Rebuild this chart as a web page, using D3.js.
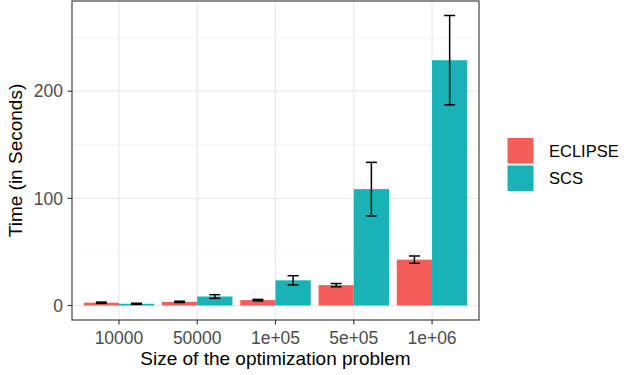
<!DOCTYPE html>
<html><head><meta charset="utf-8">
<script src="https://cdn.jsdelivr.net/npm/d3@7"></script>
<style>body{margin:0;background:#fff}svg{display:block}text{font-family:"Liberation Sans",Arial,sans-serif}</style>
</head><body><svg id="c" width="629" height="375"></svg>
<script>
const categories = ["10000","50000","1e+05","5e+05","1e+06"];
const series = ["ECLIPSE","SCS"];
const eclipseMean = [2.6, 3.4, 5.0, 19.0, 42.8];
const eclipseErr  = [0.6, 0.6, 0.7, 1.5, 3.4];
const scsMean     = [1.6, 8.4, 23.5, 108.6, 228.9];
const scsErr      = [0.5, 1.7, 4.3, 25.0, 41.7];
const yTicks = [0, 100, 200];
const yMinor = [50, 150, 250];
const colors = ["#F35E5A", "#19B2B7"];

const svg = d3.select("#c");
const m = {l:72, r:150, t:1, b:55};
const W = 629, H = 375;
const x0 = m.l, x1 = W - m.r, y0 = m.t, y1 = H - m.b;

const data = [];
categories.forEach((c,i)=>{
  data.push({cat:c, s:series[0], v:eclipseMean[i], e:eclipseErr[i]});
  data.push({cat:c, s:series[1], v:scsMean[i], e:scsErr[i]});
});
const ymax = d3.max(data, d=>d.v+d.e);
const pad = ymax*0.05;
const y = d3.scaleLinear().domain([-pad, ymax+pad]).range([y1, y0]);
// discrete x with 0.6 expansion on each side
const x = d3.scalePoint().domain(categories)
  .range([x0 + (x1-x0)*0.6/5.2, x1 - (x1-x0)*0.6/5.2]);
const step = x.step();
const xs = d3.scaleBand().domain(series).range([-0.45*step, 0.45*step]);
const col = d3.scaleOrdinal().domain(series).range(colors);

// grid
const g = svg.append("g");
g.selectAll(".mn").data(yMinor).join("line")
  .attr("x1",x0).attr("x2",x1).attr("y1",d=>y(d)).attr("y2",d=>y(d))
  .attr("stroke","#F2F2F2").attr("stroke-width",0.8);
g.selectAll(".mj").data(yTicks).join("line")
  .attr("x1",x0).attr("x2",x1).attr("y1",d=>y(d)).attr("y2",d=>y(d))
  .attr("stroke","#EBEBEB").attr("stroke-width",1.3);
g.selectAll(".vx").data(categories).join("line")
  .attr("x1",d=>x(d)).attr("x2",d=>x(d)).attr("y1",y0).attr("y2",y1)
  .attr("stroke","#EBEBEB").attr("stroke-width",1.3);

// bars
svg.append("g").selectAll("rect").data(data).join("rect")
  .attr("x", d=>x(d.cat)+xs(d.s)).attr("width", xs.bandwidth())
  .attr("y", d=>y(d.v)).attr("height", d=>y(0)-y(d.v))
  .attr("fill", d=>col(d.s));

// error bars
const eb = svg.append("g").attr("stroke","#000").attr("stroke-width",1.5).attr("fill","none");
const cap = 5.5;
data.forEach(d=>{
  const cx = x(d.cat)+xs(d.s)+xs.bandwidth()/2;
  const yt = y(d.v+d.e), yb = y(d.v-d.e);
  eb.append("line").attr("x1",cx).attr("x2",cx).attr("y1",yt).attr("y2",yb);
  eb.append("line").attr("x1",cx-cap).attr("x2",cx+cap).attr("y1",yt).attr("y2",yt);
  eb.append("line").attr("x1",cx-cap).attr("x2",cx+cap).attr("y1",yb).attr("y2",yb);
});

// border
svg.append("rect").attr("x",x0).attr("y",y0).attr("width",x1-x0).attr("height",y1-y0)
  .attr("fill","none").attr("stroke","#333").attr("stroke-width",1.1);

// y axis
const ya = svg.append("g");
yTicks.forEach(t=>{
  ya.append("line").attr("x1",x0-4.5).attr("x2",x0).attr("y1",y(t)).attr("y2",y(t)).attr("stroke","#333").attr("stroke-width",1.1);
  ya.append("text").attr("x",x0-9).attr("y",y(t)).attr("dy","0.36em").attr("text-anchor","end")
    .attr("font-size",17.5).attr("fill","#4D4D4D").text(t);
});
// x axis
categories.forEach(c=>{
  ya.append("line").attr("x1",x(c)).attr("x2",x(c)).attr("y1",y1).attr("y2",y1+4.5).attr("stroke","#333").attr("stroke-width",1.1);
  ya.append("text").attr("x",x(c)).attr("y",343.5).attr("text-anchor","middle")
    .attr("font-size",17.5).attr("fill","#4D4D4D").text(c);
});
// titles
svg.append("text").attr("x",(x0+x1)/2).attr("y",365).attr("text-anchor","middle")
  .attr("font-size",19).attr("fill","#000").text("Size of the optimization problem");
svg.append("text").attr("transform",`translate(22,${(y0+y1)/2}) rotate(-90)`).attr("text-anchor","middle")
  .attr("font-size",19).attr("fill","#000").text("Time (in Seconds)");

// legend
const lg = svg.append("g");
series.forEach((s,i)=>{
  const ly = 138 + i*27.5;
  lg.append("rect").attr("x",507.5).attr("y",ly).attr("width",26).attr("height",25.5).attr("fill",col(s));
  lg.append("text").attr("x",549).attr("y",ly+13).attr("dy","0.36em").attr("font-size",16.5).attr("fill","#000").text(s);
});
</script></body></html>
